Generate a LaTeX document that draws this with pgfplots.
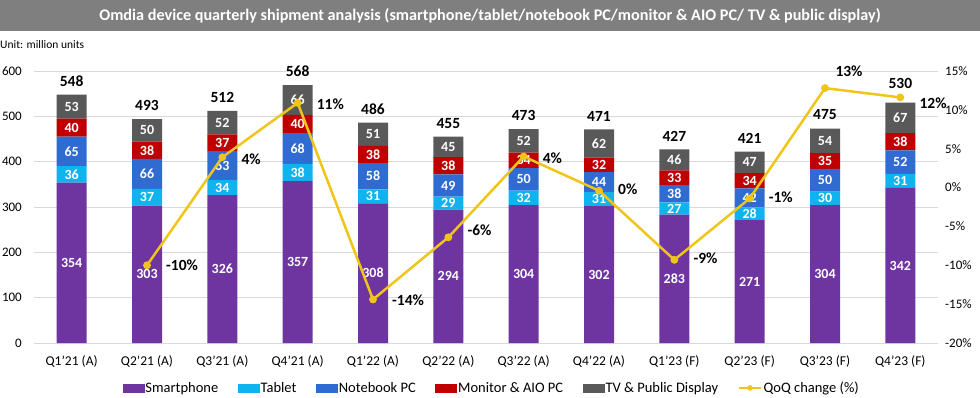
\documentclass[border=0pt]{standalone}
\usepackage{pgfplots}
\usepackage{pgfplotstable}
\pgfplotsset{compat=1.18}
\usepackage{fontspec}
\setmainfont{Carlito}
\definecolor{cS}{HTML}{6E34A0}
\definecolor{cT}{HTML}{11B3EE}
\definecolor{cN}{HTML}{2F6BD0}
\definecolor{cM}{HTML}{C00000}
\definecolor{cTV}{HTML}{595959}
\definecolor{cQ}{HTML}{F0C419}
\definecolor{gridc}{HTML}{D9D9D9}
\definecolor{titlegray}{HTML}{7F7F7F}

\pgfplotstableread{
x S T N M TV
0 354 36 65 40 53
1 303 37 66 38 50
2 326 34 63 37 52
3 357 38 68 40 66
4 308 31 58 38 51
5 294 29 49 38 45
6 304 32 50 34 52
7 302 31 44 32 62
8 283 27 38 33 46
9 271 28 42 34 47
10 304 30 50 35 54
11 342 31 52 38 67
}\shipdata

\pgfplotstableread{
x y lab
0 177 354
0 372 36
0 422.5 65
0 475 40
0 521.5 53
1 151.5 303
1 321.5 37
1 373 66
1 425 38
1 469 50
2 163 326
2 343 34
2 391.5 63
2 441.5 37
2 486 52
3 178.5 357
3 376 38
3 429 68
3 483 40
3 536 66
4 154 308
4 323.5 31
4 368 58
4 416 38
4 460.5 51
5 147 294
5 308.5 29
5 347.5 49
5 391 38
5 432.5 45
6 152 304
6 320 32
6 361 50
6 403 34
6 446 52
7 151 302
7 317.5 31
7 355 44
7 393 32
7 440 62
8 141.5 283
8 296.5 27
8 329 38
8 364.5 33
8 404 46
9 135.5 271
9 285 28
9 320 42
9 358 34
9 398.5 47
10 152 304
10 319 30
10 359 50
10 401.5 35
10 446 54
11 171 342
11 357.5 31
11 399 52
11 444 38
11 496.5 67
}\seglabels

\pgfplotstableread{
x y lab
0 548 548
1 494 493
2 512 512
3 569 568
4 486 486
5 455 455
6 472 473
7 471 471
8 427 427
9 422 421
10 475 475
11 544 530
}\totals

\pgfplotstableread{
x y
1 -10.0
2 3.9
3 10.9
4 -14.4
5 -6.4
6 4.0
7 -0.4
8 -9.3
9 -1.4
10 12.8
11 11.6
}\qoq

\pgfplotstableread{
x y lab
1 -10.0 -10
2 3.7 4
3 10.7 11
4 -14.5 -14
5 -5.5 -6
6 3.8 4
7 -0.2 0
8 -9.1 -9
9 -1.2 -1
11 10.9 12
}\qoqlab

\pgfplotstableread{
x y lab
10 12.8 13
}\qoqlabtop

\begin{document}
\begin{tikzpicture}[x=1pt,y=1pt]
\useasboundingbox (0,0) rectangle (980,397);
\fill[titlegray] (0,366) rectangle (980,397);
\node[white,font=\bfseries\fontsize{16.2}{19}\selectfont] at (490,381.5) {Omdia device quarterly shipment analysis (smartphone/tablet/notebook PC/monitor \& AIO PC/ TV \& public display)};
\node[anchor=west,font=\fontsize{11.5}{13}\selectfont,inner sep=0pt] at (0,352) {Unit: million units};

% bars
\begin{axis}[at={(34pt,54pt)}, anchor=south west, scale only axis,
  width=904pt, height=272pt,
  ybar stacked, bar width=30pt,
  ymin=0, ymax=600, xmin=-0.5, xmax=11.5,
  ytick={0,100,200,300,400,500,600},
  yticklabels={0,100,200,300,400,500,600},
  xtick={0,...,11},
  xticklabels={Q1'21 (A),Q2'21 (A),Q3'21 (A),Q4'21 (A),Q1'22 (A),Q2'22 (A),Q3'22 (A),Q4'22 (A),Q1'23 (F),Q2'23 (F),Q3'23 (F),Q4'23 (F)},
  ymajorgrids, grid style={gridc, line width=0.8pt},
  axis line style={draw=none}, major tick length=0pt,
  yticklabel style={font=\fontsize{13}{15}\selectfont, anchor=east, inner sep=0pt, xshift=-12pt},
  xticklabel style={font=\fontsize{13.5}{15}\selectfont, anchor=north, inner sep=0pt, yshift=-12pt},
  clip=false,
]
\addplot[fill=cS, draw=none] table[x=x,y=S]{\shipdata};
\addplot[fill=cT, draw=none] table[x=x,y=T]{\shipdata};
\addplot[fill=cN, draw=none] table[x=x,y=N]{\shipdata};
\addplot[fill=cM, draw=none] table[x=x,y=M]{\shipdata};
\addplot[fill=cTV, draw=none] table[x=x,y=TV]{\shipdata};
\end{axis}

% labels on bars
\begin{axis}[at={(34pt,54pt)}, anchor=south west, scale only axis,
  width=904pt, height=272pt,
  ymin=0, ymax=600, xmin=-0.5, xmax=11.5, hide axis, clip=false]
\addplot[draw=none, mark=none, nodes near coords, point meta=explicit symbolic,
  every node near coord/.append style={anchor=center, white, inner sep=0pt, font=\bfseries\fontsize{14}{16}\selectfont}]
  table[x=x,y=y,meta=lab]{\seglabels};
\addplot[draw=none, mark=none, nodes near coords, point meta=explicit symbolic,
  every node near coord/.append style={anchor=south, black, inner sep=0pt, yshift=8pt, font=\bfseries\fontsize{15.5}{17}\selectfont}]
  table[x=x,y=y,meta=lab]{\totals};
\end{axis}

% QoQ line, right axis, legend
\begin{axis}[at={(34pt,54pt)}, anchor=south west, scale only axis,
  width=904pt, height=272pt,
  ymin=-20, ymax=15, xmin=-0.5, xmax=11.5,
  axis x line=none, axis y line*=right,
  axis line style={draw=none}, major tick length=0pt,
  ytick={-20,-15,-10,-5,0,5,10,15},
  yticklabels={-20\%,-15\%,-10\%,-5\%,0\%,5\%,10\%,15\%},
  yticklabel style={font=\fontsize{13}{15}\selectfont, anchor=west, inner sep=0pt, xshift=7pt},
  clip=false,
  legend columns=-1,
  legend cell align=left,
  legend style={at={(0.506,-0.165)}, anchor=center, draw=none, fill=none,
    font=\fontsize{14.5}{16}\selectfont,
    nodes={inner xsep=1.5pt},
    /tikz/every even column/.append style={column sep=18pt}},
]
\addlegendimage{legend image code/.code={\fill[cS] (0pt,-4pt) rectangle (21pt,4pt);}}
\addlegendentry{Smartphone}
\addlegendimage{legend image code/.code={\fill[cT] (0pt,-4pt) rectangle (21pt,4pt);}}
\addlegendentry{Tablet}
\addlegendimage{legend image code/.code={\fill[cN] (0pt,-4pt) rectangle (21pt,4pt);}}
\addlegendentry{Notebook PC}
\addlegendimage{legend image code/.code={\fill[cM] (0pt,-4pt) rectangle (21pt,4pt);}}
\addlegendentry{Monitor \& AIO PC}
\addlegendimage{legend image code/.code={\fill[cTV] (0pt,-4pt) rectangle (21pt,4pt);}}
\addlegendentry{TV \& Public Display}
\addlegendimage{legend image code/.code={\draw[cQ, line width=2.5pt] (0pt,0pt) -- (22pt,0pt); \fill[cQ] (11pt,0pt) circle (2.5pt);}}
\addlegendentry{QoQ change (\%)}
\addplot[forget plot, cQ, line width=2.5pt, mark=*, mark size=2.6pt, mark options={fill=cQ, draw=cQ}]
  table[x=x,y=y]{\qoq};
\addplot[forget plot, draw=none, mark=none, nodes near coords={\pgfplotspointmeta\%}, point meta=explicit symbolic,
  every node near coord/.append style={anchor=west, black, inner sep=0pt, xshift=19pt, font=\bfseries\fontsize{15.5}{17}\selectfont}]
  table[x=x,y=y,meta=lab]{\qoqlab};
\addplot[forget plot, draw=none, mark=none, nodes near coords={\pgfplotspointmeta\%}, point meta=explicit symbolic,
  every node near coord/.append style={anchor=center, black, inner sep=0pt, xshift=24pt, yshift=17pt, font=\bfseries\fontsize{15.5}{17}\selectfont}]
  table[x=x,y=y,meta=lab]{\qoqlabtop};
\end{axis}
\end{tikzpicture}
\end{document}
